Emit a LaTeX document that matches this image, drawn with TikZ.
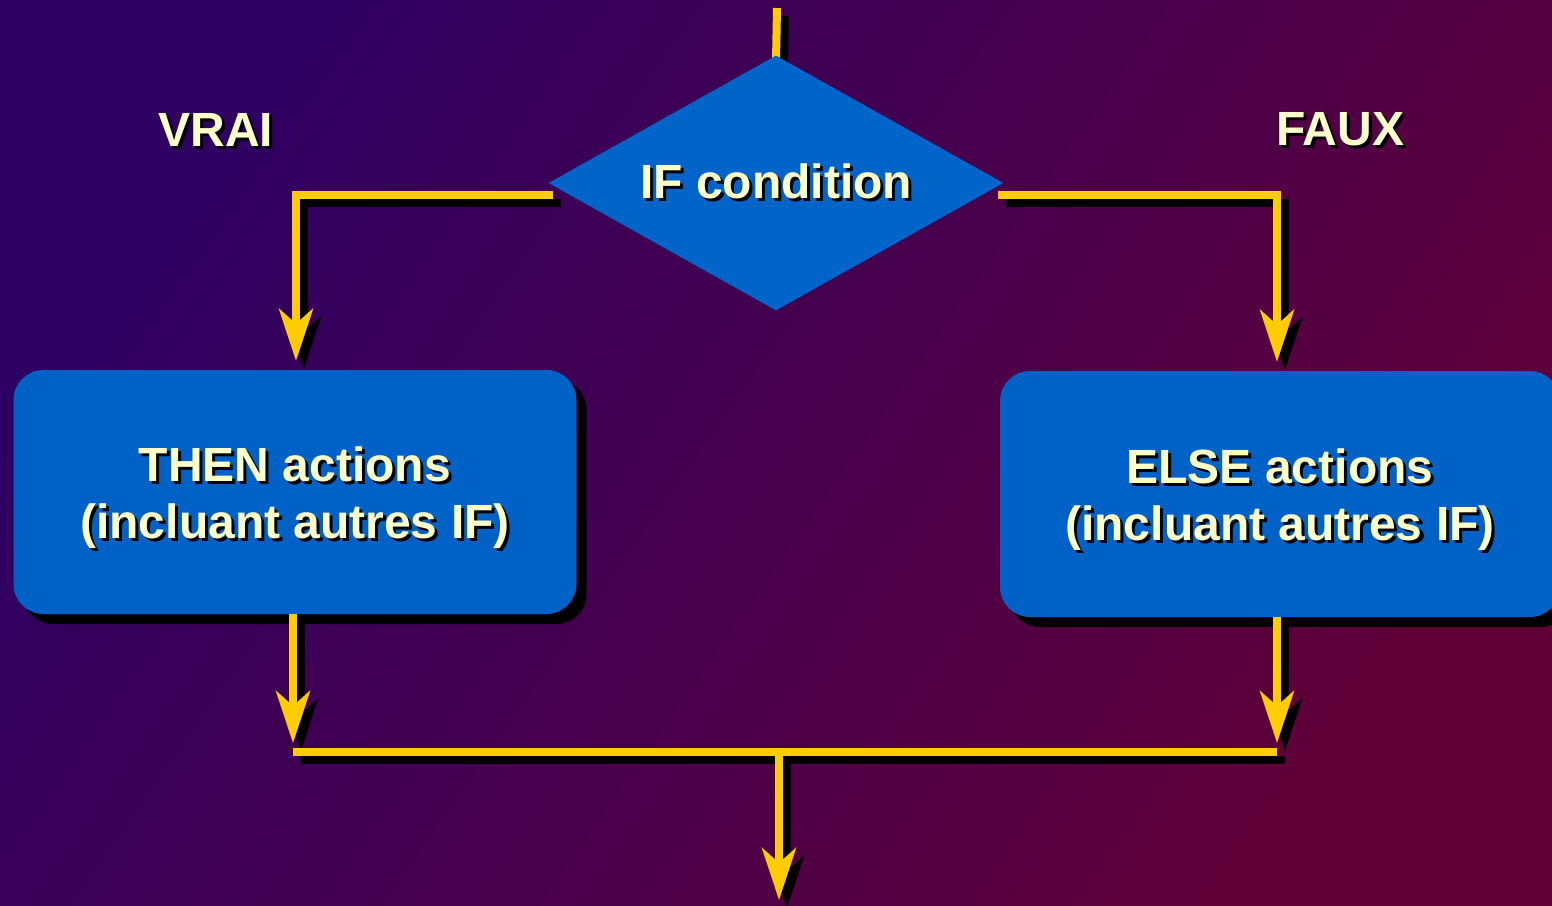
\documentclass[tikz,border=0pt]{standalone}
\usepackage{fontspec}
\setmainfont{Liberation Sans}
\usetikzlibrary{arrows.meta,shapes.geometric,shadows}

\definecolor{bgA}{HTML}{2E0062}
\definecolor{bgB}{HTML}{600038}
\definecolor{flowY}{HTML}{FFCC00}
\definecolor{boxB}{HTML}{0062C6}
\definecolor{diaB}{HTML}{0064C8}
\definecolor{cream}{HTML}{FFFFC8}

% text with a small black drop shadow
\newcommand\shd[1]{\makebox[0pt][l]{\hspace{3pt}\raisebox{-3pt}{\textcolor{black}{#1}}}#1}
% yellow connector with black shadow
\newcommand\flowpath[2]{%
  \draw[flowline,#1,draw=black,transform canvas={shift={(8,8)}}] #2;
  \draw[flowline,#1] #2;}

\tikzset{
  flowline/.style={line width=8pt, draw=flowY, line join=miter},
  tip/.style={-{Stealth[length=52pt,width=34pt,inset=15pt]}},
  bigtext/.style={text=cream, font=\bfseries\fontsize{48}{57}\selectfont},
  actbox/.style={bigtext, rounded corners=30pt, minimum width=563pt,
    minimum height=244pt, fill=boxB, align=center, inner sep=0pt,
    drop shadow={shadow xshift=10pt, shadow yshift=-10pt, fill=black, opacity=1}},
  decision/.style={bigtext, diamond, aspect=1.78, inner sep=0pt,
    minimum width=455pt, minimum height=255pt, fill=diaB},
}

\begin{document}
\begin{tikzpicture}[x=1pt,y=-1pt]
  % backdrop
  \useasboundingbox (0,0) rectangle (1552,905);
  \clip (0,0) rectangle (1552,905);
  \shade[top color=bgA, bottom color=bgB, shading angle=55] (0,0) rectangle (1552,905);

  % junction points of the flow
  \coordinate (in) at (777,8);
  \coordinate (jl) at (293,752);
  \coordinate (jr) at (1277,752);
  \coordinate (jm) at (779,752);
  \coordinate (out) at (779,900);

  % action boxes
  \node[actbox] (then) at (295,492)
    {\rule{0pt}{49pt}\shd{THEN actions}\\\shd{(incluant autres IF)}};
  \node[actbox, minimum width=560pt, minimum height=246pt] (else) at (1280,494)
    {\rule{0pt}{49pt}\shd{ELSE actions}\\\shd{(incluant autres IF)}};

  % the decision (drawn later over its incoming line)
  \path (776,183) coordinate (cpos);

  % connectors
  \flowpath{}{(in) -- (cpos |- 0,60)}
  \flowpath{tip}{([shift={(5,12)}]cpos -| 548,0) -| ([yshift=9pt]then.north -| 296,0)}
  \flowpath{tip}{([shift={(-5,12)}]cpos -| 1003,0) -| ([yshift=9pt]else.north -| 1277,0)}
  \flowpath{tip}{(then.south -| jl) -- ([yshift=9pt]jl)}
  \flowpath{tip}{(else.south -| jr) -- ([yshift=9pt]jr)}
  \flowpath{}{(jl) -- (jr)}
  \flowpath{tip}{(jm) -- (out)}

  \node[decision] (cond) at (cpos) {\shd{IF condition}};

  % branch labels
  \node[bigtext] (vrai) at (216,131) {\shd{VRAI}};
  \node[bigtext] (faux) at (1340,131) {\shd{FAUX}};
\end{tikzpicture}
\end{document}
